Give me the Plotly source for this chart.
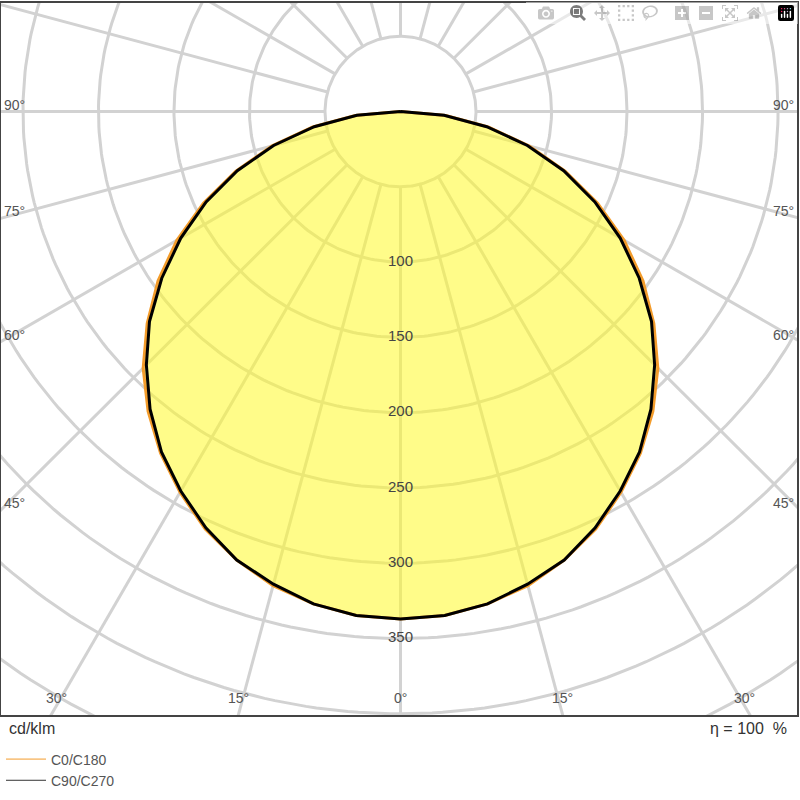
import numpy as np
import plotly.graph_objects as go

# data (cd/klm) at gamma angles, 0 = straight down
angles = [0, 5, 10, 15, 20, 25, 30, 35, 40, 45, 50, 55, 60, 65, 70, 75, 80, 85, 90]
c0_c180 = [337, 336, 332, 326, 317, 306, 292, 277, 260, 241, 219, 196, 171, 144, 116, 88, 59, 30, 0]
c90_c270 = [337, 336, 332, 325, 317, 305, 291, 276, 258, 238, 217, 193, 168, 142, 115, 87, 58, 29, 0]
radial_ticks = [100, 150, 200, 250, 300, 350]
side_angles = [90, 75, 60, 45]
bottom_angles = [30, 15, 0, 15, 30]
bottom_signs = [-1, -1, 0, 1, 1]

S = 1.512  # px per cd
xr = [-400 / S, 397 / S]
yr = [-606 / S, 109 / S]

def curve(vals):
    th = np.radians(np.array(angles, float))
    v = np.array(vals, float)
    xs = np.concatenate([-(v * np.sin(th))[::-1], (v * np.sin(th))[1:]])
    ys = np.concatenate([-(v * np.cos(th))[::-1], -(v * np.cos(th))[1:]])
    return xs, ys

fig = go.Figure()

# grid
gx, gy = [], []
t = np.linspace(0, 2 * np.pi, 361)
for r in range(50, 650, 50):
    gx += list(r * np.cos(t)) + [None]
    gy += list(r * np.sin(t)) + [None]
for a in range(0, 360, 15):
    ar = np.radians(a)
    gx += [50 * np.cos(ar), 700 * np.cos(ar), None]
    gy += [50 * np.sin(ar), 700 * np.sin(ar), None]
fig.add_trace(go.Scatter(x=gx, y=gy, mode="lines", line=dict(color="#d2d2d2", width=3),
                         hoverinfo="skip", showlegend=False))

x0, y0 = curve(c0_c180)
x9, y9 = curve(c90_c270)
fig.add_trace(go.Scatter(x=x0, y=y0, mode="lines", fill="toself", fillcolor="rgba(255,250,40,0.55)",
                         line=dict(color="#f39c2b", width=3), showlegend=False, hoverinfo="skip"))
fig.add_trace(go.Scatter(x=x9, y=y9, mode="lines",
                         line=dict(color="#000000", width=3), showlegend=False, hoverinfo="skip"))
# legend entries
fig.add_trace(go.Scatter(x=[None], y=[None], mode="lines", line=dict(color="#f39c2b", width=1), name="C0/C180"))
fig.add_trace(go.Scatter(x=[None], y=[None], mode="lines", line=dict(color="#333333", width=1), name="C90/C270"))

# radial labels
fig.add_trace(go.Scatter(x=[0] * len(radial_ticks), y=[-r for r in radial_ticks], mode="text",
                         text=[str(r) for r in radial_ticks], textfont=dict(size=15, color="#444"),
                         hoverinfo="skip", showlegend=False))

# side angle labels
for a in side_angles:
    yy = -400 / S / np.tan(np.radians(a)) if a != 90 else 0
    yy += 7 / S
    for xx, anc in [(xr[0] + 1 / S, "left"), (xr[1] - 1 / S, "right")]:
        fig.add_annotation(x=xx, y=yy, text=f"{a}°", showarrow=False, xanchor=anc,
                           font=dict(size=14, color="#555"))
# bottom angle labels
for a, s in zip(bottom_angles, bottom_signs):
    yb = yr[0] + 17 / S
    xx = s * np.tan(np.radians(a)) * (-yr[0]) * (0.985 if a == 30 else 1)
    fig.add_annotation(x=xx, y=yb, text=f"{a}°", showarrow=False, font=dict(size=14, color="#555"))

fig.add_annotation(xref="paper", yref="paper", x=0.008, y=-0.004, yanchor="top", xanchor="left",
                   text="cd/klm", showarrow=False, font=dict(size=16, color="#333"))
fig.add_annotation(xref="paper", yref="paper", x=0.99, y=-0.004, yanchor="top", xanchor="right",
                   text="η = 100  %", showarrow=False, font=dict(size=16, color="#333"))

fig.update_xaxes(range=xr, showgrid=False, zeroline=False, showticklabels=False, ticks="",
                 showline=True, mirror=True, linecolor="#444", linewidth=2)
fig.update_yaxes(range=yr, showgrid=False, zeroline=False, showticklabels=False, ticks="",
                 showline=True, mirror=True, linecolor="#444", linewidth=2)
fig.update_layout(width=800, height=800, margin=dict(l=1, r=3, t=1, b=85),
                  plot_bgcolor="white", paper_bgcolor="white",
                  font=dict(family="Liberation Sans", color="#444"),
                  legend=dict(x=0.0, y=-0.04, xanchor="left", yanchor="top", font=dict(size=14, color="#555"),
                              tracegroupgap=0, itemwidth=40, bgcolor="rgba(0,0,0,0)"))
fig.write_html("out.html", post_script="document.body.style.margin='0';")
